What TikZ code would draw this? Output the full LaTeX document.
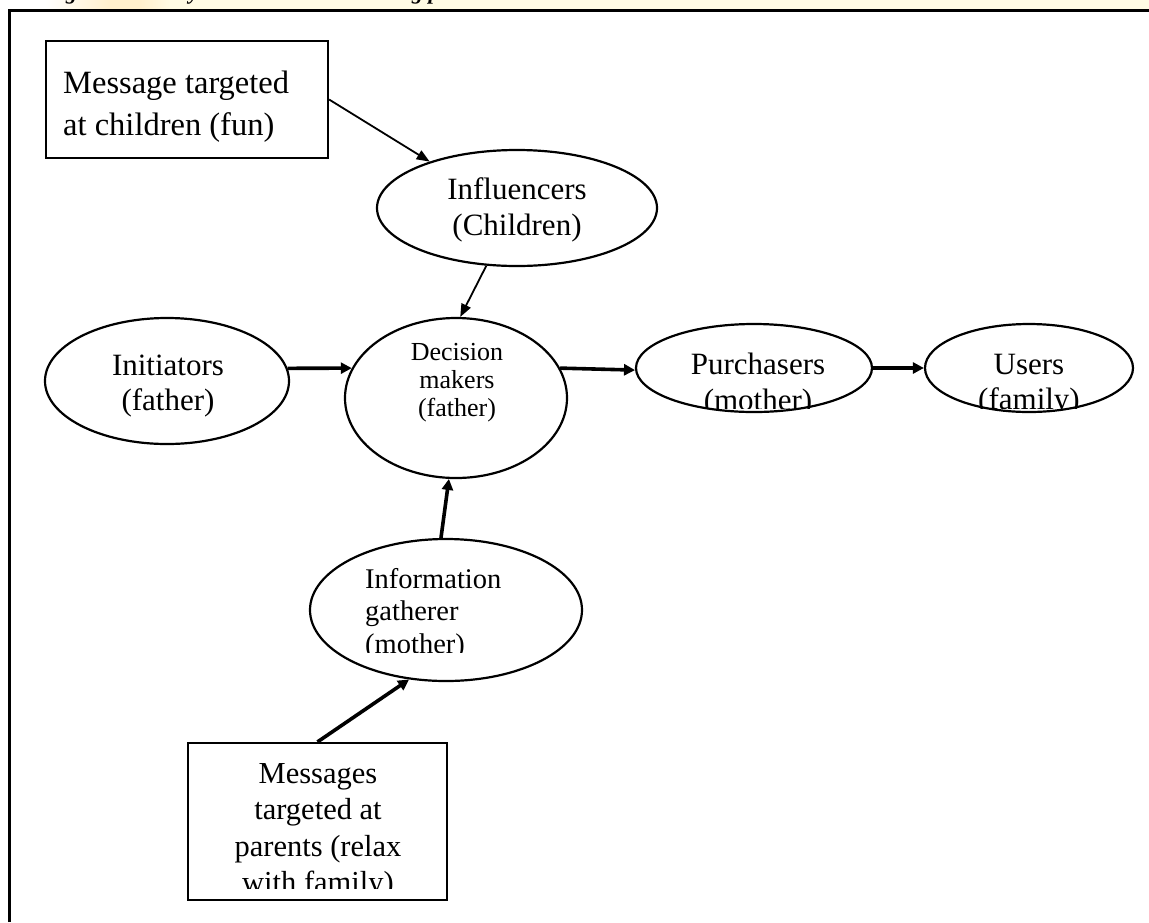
\documentclass[tikz,border=0pt]{standalone}
\usepackage{fontspec}
\setmainfont{Liberation Serif}
\usetikzlibrary{arrows.meta,shapes.geometric}
\definecolor{cream}{RGB}{255,251,228}
\definecolor{warm}{RGB}{255,240,205}
\begin{document}
\begin{tikzpicture}[x=1pt,y=-1pt,
  ell/.style={draw, ellipse, line width=2.2pt, inner sep=0pt},
  rbox/.style={draw, rectangle, line width=2.2pt, inner sep=0pt},
  txt/.style={font=\fontsize{31}{35.5}\selectfont, inner sep=0pt},
  capt/.style={anchor=base west, inner sep=0pt, font=\fontsize{22}{26}\selectfont\bfseries\itshape},
  thinarr/.style={line width=1.8pt, -{Triangle[length=13pt,width=10pt]}},
  thickarr/.style={line width=3.6pt, -{Triangle[length=11pt,width=11pt]}}]
\useasboundingbox (0,0) rectangle (1149,922);
% header strip with cut-off caption
\fill[cream] (50,0) rectangle (1149,8.5);
\shade[left color=white, right color=warm] (45,0) rectangle (110,8.5);
\fill[warm] (110,0) rectangle (140,8.5);
\shade[left color=warm, right color=cream] (140,0) rectangle (170,8.5);
\begin{scope}
\clip (0,0) rectangle (1149,8.5);
\node[capt] (capa) at (66,-1) {g};
\node[capt] (capb) at (189,-1) {y};
\node[capt] (capc) at (412,-1) {g p};
\end{scope}
% outer frame
\draw[line width=3pt] (9,922) -- (9,10) -- (1149,10);

% shapes
\node[rbox, minimum width=282pt, minimum height=117pt] (box1) at (187,99.5) {};
\node[ell, minimum width=280pt, minimum height=116pt] (infl) at (517,208) {};
\node[ell, minimum width=222pt, minimum height=160pt] (dec) at (456,398) {};
\node[ell, minimum width=244pt, minimum height=126pt] (init) at (167,381) {};
\node[ell, minimum width=236pt, minimum height=88pt] (purch) at (754,368) {};
\node[ell, minimum width=208pt, minimum height=88pt] (users) at (1029,368) {};
\node[ell, minimum width=272pt, minimum height=142pt] (info) at (446,610) {};
\node[rbox, minimum width=259pt, minimum height=157pt] (box2) at (317.5,821.5) {};

% texts
\node[inner sep=0pt, anchor=west, align=left, font=\fontsize{32.5}{42}\selectfont] (t1) at (63,107) {Message targeted\\at children (fun)};
\node[txt, align=center] (t2) at (517,210) {Influencers\\(Children)};
\node[txt, align=center] (t3) at (168,386) {Initiators\\(father)};
\node[inner sep=0pt, align=center, font=\fontsize{26}{28}\selectfont] (t4) at (457,383) {Decision\\makers\\(father)};
\begin{scope}
\clip (600,330) rectangle (1149,408);
\node[txt, align=center] (t5) at (758,385) {Purchasers\\(mother)};
\node[txt, align=center] (t6) at (1029,385) {Users\\(family)};
\end{scope}
\begin{scope}
\clip (330,560) rectangle (560,652);
\node[inner sep=0pt, anchor=north west, align=left, font=\fontsize{28.5}{32.5}\selectfont] (t7) at (365,568) {Information\\gatherer\\(mother)};
\end{scope}
\begin{scope}
\clip (195,750) rectangle (440,888);
\node[inner sep=0pt, anchor=north, align=center, font=\fontsize{30.5}{36.5}\selectfont] (t8) at (318,763) {Messages\\targeted at\\parents (relax\\with family)};
\end{scope}

% connectors
\draw[thinarr] (box1.east) -- (infl.152);
\draw[thinarr] (infl.242) -- (dec.87);
\draw[thickarr] (init.6) -- (dec.164);
\draw[thickarr] (dec.16) -- (purch.181);
\draw[thickarr] (purch.east) -- (users.west);
\draw[thickarr] (info.94) -- (dec.265);
\draw[thickarr] (box2.north) -- (info.242);
\end{tikzpicture}
\end{document}
